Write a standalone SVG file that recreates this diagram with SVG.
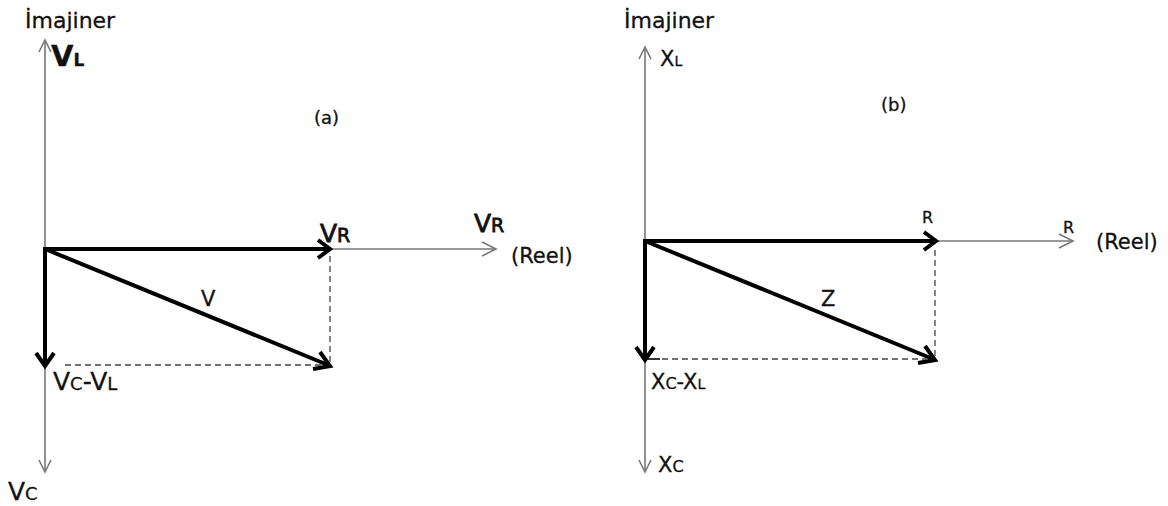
<svg xmlns="http://www.w3.org/2000/svg" width="1168" height="506" viewBox="0 0 1168 506">
<style>
.axis{stroke:#777;stroke-width:1.6;fill:none}
.bold{stroke:#000;stroke-width:4;fill:none}
.dash{stroke:#444;stroke-width:1.3;stroke-dasharray:6,4;fill:none}
.t{font-family:"DejaVu Sans",sans-serif;fill:#111;stroke:#111;stroke-width:0.3}
.open{stroke:#777;stroke-width:1.6;fill:none}
.bh{stroke:#000;stroke-width:4;fill:none;stroke-linejoin:miter}
</style>
<rect width="1168" height="506" fill="#fff"/>
<g id="connectors">
  <line class="axis" x1="45" y1="40" x2="45" y2="472"/>
  <polyline class="open" points="39,52 45,40 51,52"/>
  <polyline class="open" points="39,460 45,472 51,460"/>
  <line class="axis" x1="45" y1="249" x2="496" y2="249"/>
  <polyline class="open" points="482,242 496,249 482,256"/>
  <line class="bold" x1="45" y1="249" x2="328" y2="249"/>
  <polyline class="bh" points="318,240 330,249 318,258"/>
  <line class="bold" x1="45" y1="247" x2="45" y2="364"/>
  <polyline class="bh" points="36,353 45,366 54,353"/>
  <line class="bold" x1="45" y1="249" x2="328" y2="365"/>
  <polyline class="bh" points="313,369 330,366 320,352"/>
  <line class="dash" x1="65" y1="365" x2="322" y2="365"/>
  <line class="dash" x1="330" y1="256" x2="330" y2="362"/>
  <line class="axis" x1="645" y1="47" x2="645" y2="472"/>
  <polyline class="open" points="639,59 645,47 651,59"/>
  <polyline class="open" points="639,460 645,472 651,460"/>
  <line class="axis" x1="645" y1="241" x2="1073" y2="241"/>
  <polyline class="open" points="1059,234 1073,241 1059,248"/>
  <line class="bold" x1="645" y1="241" x2="934" y2="241"/>
  <polyline class="bh" points="924,232 936,241 924,250"/>
  <line class="bold" x1="645" y1="239" x2="645" y2="358"/>
  <polyline class="bh" points="636,347 645,360 654,347"/>
  <line class="bold" x1="645" y1="241" x2="933" y2="359"/>
  <polyline class="bh" points="918,363 935,360 925,346"/>
  <line class="axis" x1="645" y1="359" x2="660" y2="359" style="stroke:#000"/>
  <line class="dash" x1="662" y1="359" x2="928" y2="359"/>
  <line class="dash" x1="935" y1="250" x2="935" y2="356"/>
</g>
<g id="labels-a">
  <text class="t" x="25" y="28" font-size="22">İmajiner</text>
  <text class="t" x="51" y="66" font-size="29" font-weight="bold">V<tspan font-size="17">L</tspan></text>
  <text class="t" x="320" y="242" font-size="25" style="stroke-width:0.8">V<tspan font-size="19">R</tspan></text>
  <text class="t" x="474" y="232" font-size="25" style="stroke-width:0.8">V<tspan font-size="19">R</tspan></text>
  <text class="t" x="511" y="263" font-size="21">(Reel)</text>
  <text class="t" x="201" y="306" font-size="21">V</text>
  <text class="t" x="53" y="390" font-size="25">V<tspan font-size="18">C</tspan>-V<tspan font-size="18">L</tspan></text>
  <text class="t" x="8" y="500" font-size="25">V<tspan font-size="18">C</tspan></text>
  <text class="t" x="314" y="124" font-size="18">(a)</text>
</g>
<g id="labels-b">
  <text class="t" x="624" y="28" font-size="22">İmajiner</text>
  <text class="t" x="660" y="66" font-size="21">X<tspan font-size="14">L</tspan></text>
  <text class="t" x="922" y="223" font-size="16">R</text>
  <text class="t" x="1063" y="233" font-size="16">R</text>
  <text class="t" x="1096" y="249" font-size="21">(Reel)</text>
  <text class="t" x="821" y="306" font-size="21">Z</text>
  <text class="t" x="651" y="389" font-size="21">X<tspan font-size="16">C</tspan>-X<tspan font-size="14">L</tspan></text>
  <text class="t" x="658" y="472" font-size="21">X<tspan font-size="16">C</tspan></text>
  <text class="t" x="881" y="111" font-size="18">(b)</text>
</g>
</svg>
